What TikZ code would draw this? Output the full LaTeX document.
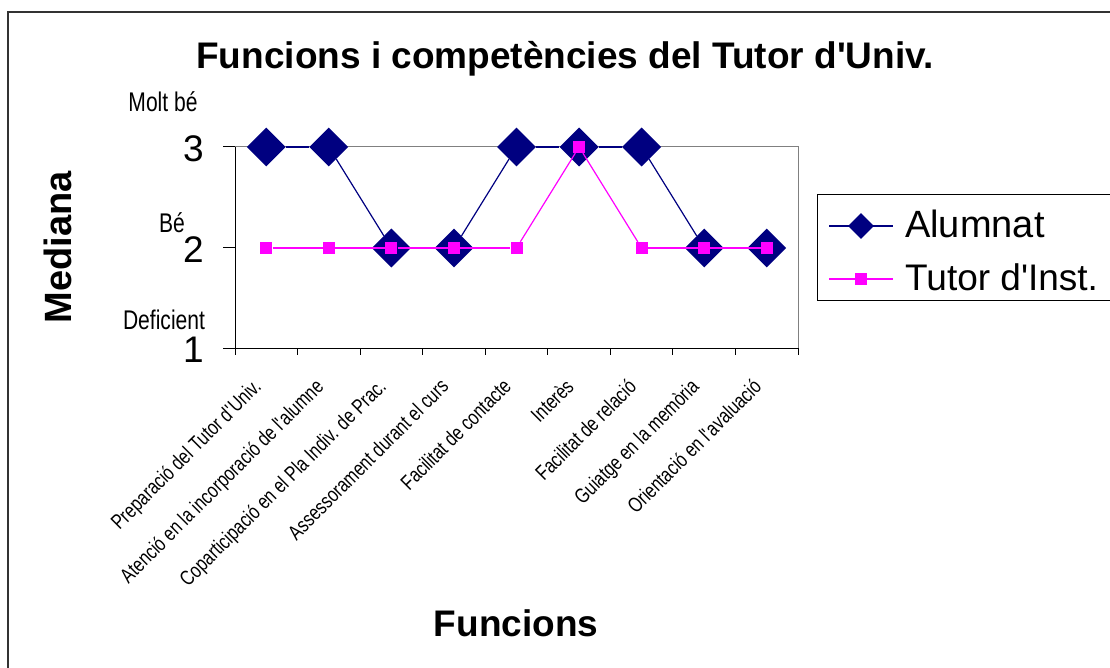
\documentclass[tikz,border=0pt]{standalone}
\usepackage{fontspec}
\setmainfont{Liberation Sans}
\newfontfamily\narrowfont[FakeStretch=0.78]{Liberation Sans}
\usetikzlibrary{shapes.geometric}
\definecolor{navy}{HTML}{000080}
\definecolor{pink}{HTML}{FF00FF}
\tikzset{
    alumnatmark/.style={diamond, fill=navy, inner sep=0pt, minimum size=39pt},
    tutormark/.style={rectangle, fill=pink, inner sep=0pt, minimum size=12pt},
    alumnatline/.style={draw=navy, line width=1.2pt},
    tutorline/.style={draw=pink, line width=1.2pt},
    catlabel/.style={font=\narrowfont\fontsize{21}{21}\selectfont, rotate=45, anchor=north east, inner sep=0pt},
    levellabel/.style={font=\narrowfont\fontsize{27}{27}\selectfont, inner sep=0pt},
    numlabel/.style={font=\fontsize{37}{37}\selectfont, anchor=east, inner sep=0pt}
}
\begin{document}
\begin{tikzpicture}[x=1pt, y=-1pt]
        \useasboundingbox (0, 0) rectangle (1110, 668);

        % Draw the outer frame
        \draw[line width=2pt, black!80] (8, 670) -- (8, 12) -- (1112, 12);

        % Draw the plot area and the axes
        \draw[gray, line width=1pt] (235, 147) -- (798, 147) -- (798, 348);
        \draw[line width=1pt] (235, 147) -- (235, 348) -- (798, 348);
        \draw[line width=1pt] (223, 147) -- (235, 147) (223, 248) -- (235, 248) (223, 348) -- (235, 348);
        \draw[line width=1pt] (235, 348) -- (235, 355) (297.6, 348) -- (297.6, 355)
            (360.1, 348) -- (360.1, 355) (422.7, 348) -- (422.7, 355)
            (485.2, 348) -- (485.2, 355) (547.8, 348) -- (547.8, 355)
            (610.3, 348) -- (610.3, 355) (672.9, 348) -- (672.9, 355)
            (735.4, 348) -- (735.4, 355) (798, 348) -- (798, 355);

        % Value labels on the y axis
        \node[numlabel] (n3) at (204, 148.5) {3};
        \node[numlabel] (n2) at (204, 250) {2};
        \node[numlabel] (n1) at (204, 350) {1};
        \node[levellabel] (moltbe) at (163, 102) {Molt bé};
        \node[levellabel, anchor=east] (be) at (185, 223) {Bé};
        \node[levellabel] (deficient) at (164, 320) {Deficient};

        % Category labels on the x axis
        \node[catlabel] (c1) at (251.3, 377) {Preparació del Tutor d\textquotesingle Univ.};
        \node[catlabel] (c2) at (313.8, 377) {Atenció en la incorporació de l\textquotesingle alumne};
        \node[catlabel] (c3) at (376.4, 377) {Coparticipació en el Pla Indiv. de Prac.};
        \node[catlabel] (c4) at (439, 377) {Assessorament durant el curs};
        \node[catlabel] (c5) at (501.5, 377) {Facilitat de contacte};
        \node[catlabel] (c6) at (564.1, 377) {Interès};
        \node[catlabel] (c7) at (626.6, 377) {Facilitat de relació};
        \node[catlabel] (c8) at (689.2, 377) {Guiatge en la memòria};
        \node[catlabel] (c9) at (751.7, 377) {Orientació en l\textquotesingle avaluació};

        % Alumnat series
        \node[alumnatmark] (a1) at (266.3, 147) {};
        \node[alumnatmark] (a2) at (328.8, 147) {};
        \node[alumnatmark] (a3) at (391.4, 248) {};
        \node[alumnatmark] (a4) at (454, 248) {};
        \node[alumnatmark] (a5) at (516.5, 147) {};
        \node[alumnatmark] (a6) at (579.1, 147) {};
        \node[alumnatmark] (a7) at (641.6, 147) {};
        \node[alumnatmark] (a8) at (704.2, 248) {};
        \node[alumnatmark] (a9) at (766.7, 248) {};
        \draw[alumnatline] (a1) -- (a2);
        \draw[alumnatline] (a2) -- (a3);
        \draw[alumnatline] (a3) -- (a4);
        \draw[alumnatline] (a4) -- (a5);
        \draw[alumnatline] (a5) -- (a6);
        \draw[alumnatline] (a6) -- (a7);
        \draw[alumnatline] (a7) -- (a8);
        \draw[alumnatline] (a8) -- (a9);

        % Tutor d'Inst. series
        \node[tutormark] (t1) at (266.3, 248) {};
        \node[tutormark] (t2) at (328.8, 248) {};
        \node[tutormark] (t3) at (391.4, 248) {};
        \node[tutormark] (t4) at (454, 248) {};
        \node[tutormark] (t5) at (516.5, 248) {};
        \node[tutormark] (t6) at (579.1, 147) {};
        \node[tutormark] (t7) at (641.6, 248) {};
        \node[tutormark] (t8) at (704.2, 248) {};
        \node[tutormark] (t9) at (766.7, 248) {};
        \draw[tutorline] (t1) -- (t2);
        \draw[tutorline] (t2) -- (t3);
        \draw[tutorline] (t3) -- (t4);
        \draw[tutorline] (t4) -- (t5);
        \draw[tutorline] (t5) -- (t6);
        \draw[tutorline] (t6) -- (t7);
        \draw[tutorline] (t7) -- (t8);
        \draw[tutorline] (t8) -- (t9);

        % Titles
        \node[font=\bfseries\fontsize{37}{37}\selectfont, anchor=base] (title) at (565, 69) {Funcions i competències del Tutor d\textquotesingle Univ.};
        \node[font=\bfseries\fontsize{37}{37}\selectfont, anchor=base] (xtitle) at (516, 636) {Funcions};
        \node[font=\bfseries\fontsize{38}{38}\selectfont, rotate=90] (ytitle) at (58, 247) {Mediana};

        % Legend
        \draw[line width=1pt] (817, 195) rectangle (1112, 300);
        \coordinate (lal) at (829, 226);
        \coordinate (lar) at (893, 226);
        \coordinate (ltl) at (829, 279);
        \coordinate (ltr) at (893, 279);
        \draw[alumnatline] (lal) -- (lar);
        \draw[tutorline] (ltl) -- (ltr);
        \node[alumnatmark, minimum size=26pt] (lega) at (861, 226) {};
        \node[tutormark] (legt) at (861, 279) {};
        \node[font=\fontsize{38}{38}\selectfont, anchor=base west, inner sep=0pt] (legatext) at (905, 237) {Alumnat};
        \node[font=\fontsize{37}{37}\selectfont, anchor=base west, inner sep=0pt] (legttext) at (905, 290) {Tutor d\textquotesingle Inst.};
    \end{tikzpicture}
\end{document}
